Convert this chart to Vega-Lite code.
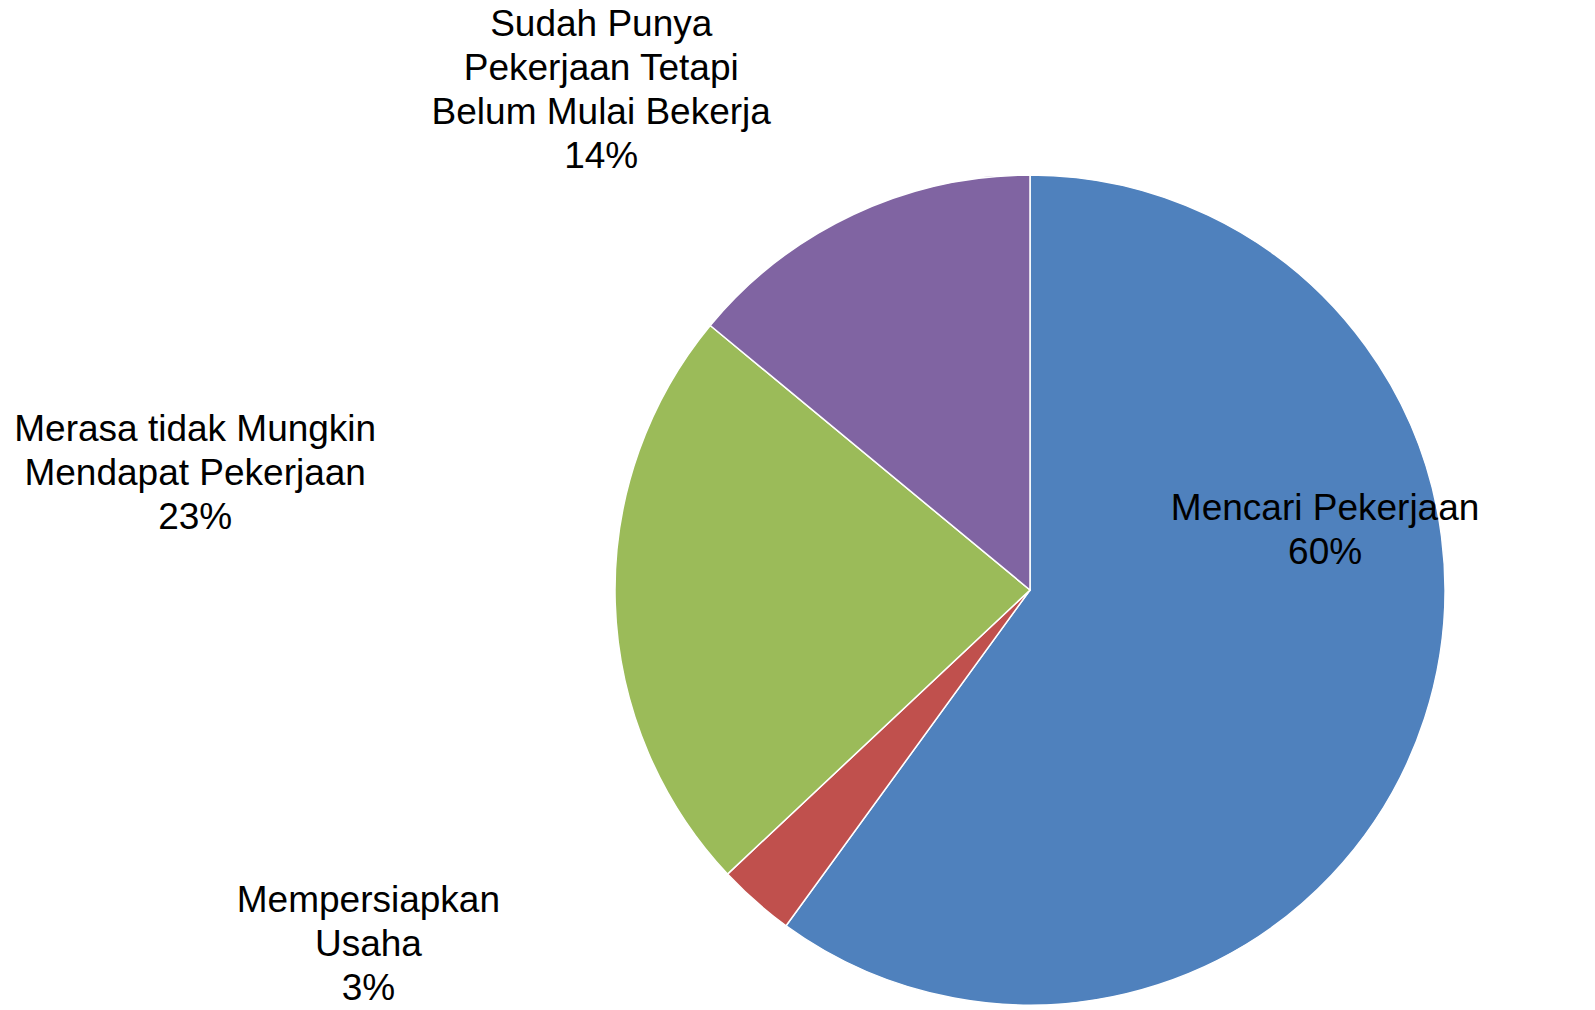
{
  "$schema": "https://vega.github.io/schema/vega-lite/v6.json",
  "width": 1130,
  "height": 840,
  "autosize": {"type": "none"},
  "padding": {"left": 465, "top": 170, "right": 0, "bottom": 0},
  "background": "white",
  "config": {"view": {"stroke": null}},
  "data": {
    "values": [
      {"category": "Mencari Pekerjaan", "value": 60, "rank": 1, "label": "Mencari Pekerjaan\n60%"},
      {"category": "Mempersiapkan Usaha", "value": 3, "rank": 2, "label": "Mempersiapkan\nUsaha\n3%"},
      {"category": "Merasa tidak Mungkin Mendapat Pekerjaan", "value": 23, "rank": 3, "label": "Merasa tidak Mungkin\nMendapat Pekerjaan\n23%"},
      {"category": "Sudah Punya Pekerjaan Tetapi Belum Mulai Bekerja", "value": 14, "rank": 4, "label": "Sudah Punya\nPekerjaan Tetapi\nBelum Mulai Bekerja\n14%"}
    ]
  },
  "transform": [
    {"stack": "value", "groupby": [], "sort": [{"field": "rank", "order": "ascending"}], "as": ["start", "end"]},
    {"calculate": "(datum.start + datum.end) / 2", "as": "mid"}
  ],
  "layer": [
    {
      "mark": {"type": "arc", "outerRadius": 415, "stroke": "white", "strokeWidth": 1.5},
      "encoding": {
        "theta": {"field": "start", "type": "quantitative", "scale": {"domain": [0, 100]}},
        "theta2": {"field": "end"},
        "color": {
          "field": "category",
          "type": "nominal",
          "scale": {
            "domain": ["Mencari Pekerjaan", "Mempersiapkan Usaha", "Merasa tidak Mungkin Mendapat Pekerjaan", "Sudah Punya Pekerjaan Tetapi Belum Mulai Bekerja"],
            "range": ["#4F81BD", "#C0504D", "#9BBB59", "#8064A2"]
          },
          "legend": null
        }
      }
    },
    {
      "transform": [{"filter": "datum.rank == 1"}],
      "mark": {"type": "text", "radius": 306, "thetaOffset": -0.582, "font": "Liberation Sans", "fontSize": 37, "lineHeight": 44, "lineBreak": "\n", "align": "center", "baseline": "middle", "color": "black"},
      "encoding": {"theta": {"field": "mid", "type": "quantitative"}, "text": {"field": "label"}}
    },
    {
      "transform": [{"filter": "datum.rank == 2"}],
      "mark": {"type": "text", "radius": 731, "thetaOffset": 0.409, "font": "Liberation Sans", "fontSize": 37, "lineHeight": 44, "lineBreak": "\n", "align": "center", "baseline": "middle", "color": "black"},
      "encoding": {"theta": {"field": "mid", "type": "quantitative"}, "text": {"field": "label"}}
    },
    {
      "transform": [{"filter": "datum.rank == 3"}],
      "mark": {"type": "text", "radius": 850, "thetaOffset": 0.2208, "font": "Liberation Sans", "fontSize": 37, "lineHeight": 44, "lineBreak": "\n", "align": "center", "baseline": "middle", "color": "black"},
      "encoding": {"theta": {"field": "mid", "type": "quantitative"}, "text": {"field": "label"}}
    },
    {
      "transform": [{"filter": "datum.rank == 4"}],
      "mark": {"type": "text", "radius": 709, "thetaOffset": -0.2096, "font": "Liberation Sans", "fontSize": 37, "lineHeight": 44, "lineBreak": "\n", "align": "center", "baseline": "middle", "color": "black"},
      "encoding": {"theta": {"field": "mid", "type": "quantitative"}, "text": {"field": "label"}}
    }
  ]
}
